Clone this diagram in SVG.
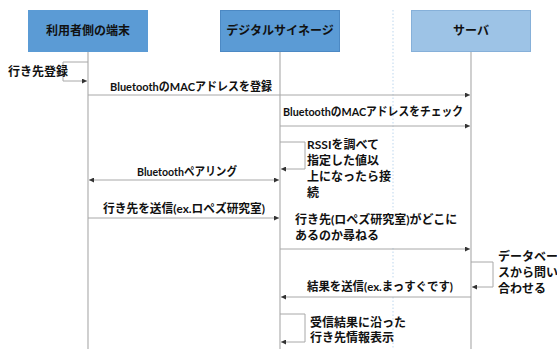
<svg xmlns="http://www.w3.org/2000/svg" width="557" height="349" viewBox="0 0 557 349">
<style>
text{font-family:"Lato","Noto Sans CJK JP",sans-serif;font-size:12px;font-weight:bold;fill:#111}
.mid{text-anchor:middle}
.life{stroke:#c4c4c4;stroke-width:1.6;fill:none}
.msg{stroke:#a8a8a8;stroke-width:1;fill:none}
</style>
<defs>
<marker id="ah" viewBox="0 0 6 6" refX="6" refY="3" markerWidth="5" markerHeight="5" orient="auto-start-reverse" markerUnits="userSpaceOnUse">
<path d="M0,0 L6,3 L0,6 z" fill="#333"/>
</marker>
</defs>
<rect width="557" height="349" fill="#fff"/>
<line x1="393" y1="10" x2="393" y2="349" stroke="#bdd7ee" stroke-width="1" stroke-dasharray="1.5,2"/>
<g id="lifelines">
<line class="life" x1="88" y1="52" x2="88" y2="349"/>
<line class="life" x1="280" y1="52" x2="280" y2="349"/>
<line class="life" x1="471" y1="52" x2="471" y2="349"/>
</g>
<g id="n1"><rect x="28" y="10" width="120" height="42" fill="#5b9bd5"/><text class="mid" x="88" y="35">利用者側の端末</text></g>
<g id="n2"><rect x="220.5" y="10.5" width="119" height="41" fill="#5b9bd5" stroke="#4c89c4"/><text class="mid" x="280" y="35">デジタルサイネージ</text></g>
<g id="n3"><rect x="411.5" y="10.5" width="119" height="41" fill="#9dc3e6" stroke="#86b0d9"/><text class="mid" x="471" y="35">サーバ</text></g>
<g id="connectors">
<path class="msg" d="M88,62 H63 V81 H87" marker-end="url(#ah)"/>
<line class="msg" x1="88" y1="95" x2="470" y2="95" marker-end="url(#ah)"/>
<line class="msg" x1="280" y1="126" x2="470" y2="126" marker-end="url(#ah)"/>
<path class="msg" d="M280,142 H305 V169 H281" marker-end="url(#ah)"/>
<line class="msg" x1="89" y1="180" x2="279" y2="180" marker-start="url(#ah)" marker-end="url(#ah)"/>
<line class="msg" x1="88" y1="218" x2="279" y2="218" marker-end="url(#ah)"/>
<line class="msg" x1="280" y1="249" x2="470" y2="249" marker-end="url(#ah)"/>
<path class="msg" d="M471,262 H493 V287 H472" marker-end="url(#ah)"/>
<line class="msg" x1="471" y1="297" x2="281" y2="297" marker-end="url(#ah)"/>
<path class="msg" d="M280,314 H305 V342 H281" marker-end="url(#ah)"/>
</g>
<g id="labels">
<text x="8" y="76">行き先登録</text>
<text x="110" y="91" textLength="162" lengthAdjust="spacingAndGlyphs">BluetoothのMACアドレスを登録</text>
<text x="283" y="116" textLength="180" lengthAdjust="spacingAndGlyphs">BluetoothのMACアドレスをチェック</text>
<text x="307" y="149">RSSIを調べて</text>
<text x="307" y="165">指定した値以</text>
<text x="307" y="181">上になったら接</text>
<text x="307" y="197">続</text>
<text x="137" y="176" textLength="100" lengthAdjust="spacingAndGlyphs">Bluetoothペアリング</text>
<text x="103" y="213" textLength="162" lengthAdjust="spacingAndGlyphs">行き先を送信(ex.ロペズ研究室)</text>
<rect x="290" y="210" width="173" height="36" fill="#fff"/>
<text x="295" y="224">行き先(ロペズ研究室)がどこに</text>
<text x="295" y="240">あるのか尋ねる</text>
<text x="498" y="261">データベー</text>
<text x="498" y="277">スから問い</text>
<text x="498" y="293">合わせる</text>
<rect x="298" y="278" width="160" height="17" fill="#fff"/>
<text x="307" y="291" textLength="146" lengthAdjust="spacingAndGlyphs">結果を送信(ex.まっすぐです)</text>
<text x="310" y="327">受信結果に沿った</text>
<text x="310" y="342">行き先情報表示</text>
</g>
</svg>
